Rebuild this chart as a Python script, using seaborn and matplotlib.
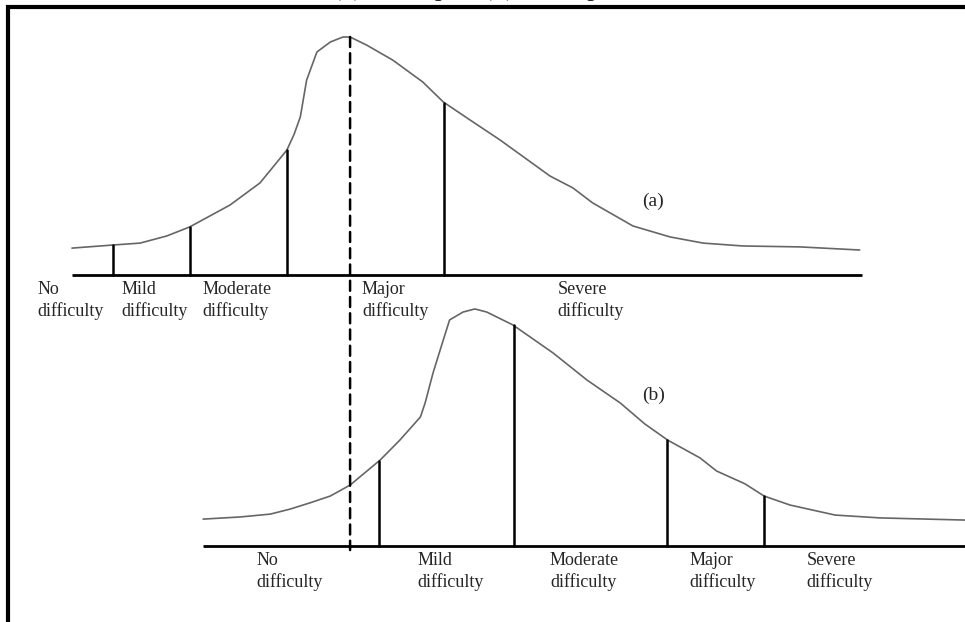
import numpy as np
import pandas as pd
import matplotlib.pyplot as plt
import seaborn as sns
from matplotlib.patches import ConnectionPatch, Rectangle

# panel (a): difficulty score vs relative frequency
score_a = [0, 5.19, 8.61, 12.0, 14.9, 20.0, 23.8, 27.2, 28.1, 28.9, 29.7, 31.0, 32.7, 34.3, 35.2,
           37.3, 40.6, 44.4, 47.0, 50.4, 54.2, 60.5, 63.4, 65.9, 71.0, 75.7, 79.9, 84.9, 92.2, 99.7]
freq_a = [0.113, 0.126, 0.134, 0.164, 0.202, 0.294, 0.387, 0.525, 0.590, 0.664, 0.819, 0.937, 0.979, 1.0, 1.0,
          0.966, 0.903, 0.811, 0.727, 0.651, 0.567, 0.416, 0.366, 0.303, 0.206, 0.160, 0.134, 0.122, 0.118, 0.105]
cuts_a = [5.2, 14.9, 27.2, 47.1]
range_a = [0, 100]

# panel (b)
score_b = [16.6, 21.3, 25.1, 27.6, 30.1, 32.7, 35.2, 39.0, 41.5, 44.1, 44.7, 45.7, 47.0, 47.8, 49.5,
           51.0, 52.5, 55.8, 60.9, 65.2, 69.4, 72.5, 75.4, 79.5, 81.6, 85.2, 87.6, 90.9, 96.6, 102.3, 113.0]
freq_b = [0.113, 0.122, 0.134, 0.155, 0.181, 0.210, 0.256, 0.361, 0.445, 0.542, 0.601, 0.727, 0.866, 0.950, 0.983,
          0.996, 0.983, 0.929, 0.811, 0.697, 0.601, 0.513, 0.445, 0.370, 0.315, 0.261, 0.210, 0.172, 0.130, 0.118, 0.109]
cuts_b = [38.9, 55.9, 75.3, 87.6]
range_b = [16.6, 113.0]

categories = ["No\ndifficulty", "Mild\ndifficulty", "Moderate\ndifficulty", "Major\ndifficulty", "Severe\ndifficulty"]
peak_a = 35.2

# layout: where the category labels sit (score units)
label_x_a = [-4.4, 6.3, 16.5, 36.7, 61.5]
label_x_b = [23.4, 43.7, 60.5, 78.2, 93.0]

sns.set_style("white")
plt.rcParams['font.family'] = ['Liberation Serif', 'DejaVu Serif']

fig = plt.figure(figsize=(9.65, 6.22), dpi=100)
xlim = (-72 / 7.9, (965 - 72) / 7.9)
ax_a = fig.add_axes([0, 1 - 300 / 622, 1, 300 / 622])
ax_b = fig.add_axes([0, 0, 1, 322 / 622])
ax_a.set_xlim(xlim)
ax_b.set_xlim(xlim)
ax_a.set_ylim(-25 / 238, 275 / 238)
ax_b.set_ylim(-76 / 238, 246 / 238)

def draw_panel(ax, score, freq, cuts, xr, labels_x, tag, tag_y):
    df = pd.DataFrame({"score": score, "freq": freq})
    sns.lineplot(data=df, x="score", y="freq", ax=ax, color="#666666", linewidth=1.2, sort=False)
    ax.plot(xr, [0, 0], color="black", linewidth=2, solid_capstyle="butt", clip_on=False)
    for c in cuts:
        ax.plot([c, c], [0, np.interp(c, score, freq)], color="black", linewidth=1.8)
    for lx, lab in zip(labels_x, categories):
        ax.text(lx, -0.025, lab, ha="left", va="top", fontsize=13, linespacing=1.3)
    ax.text(72.2, tag_y, tag, ha="left", va="center", fontsize=14)
    ax.axis("off")

draw_panel(ax_a, score_a, freq_a, cuts_a, range_a, label_x_a, "(a)", 0.31)
draw_panel(ax_b, score_b, freq_b, cuts_b, range_b, label_x_b, "(b)", 0.634)

# dashed line from the peak of (a) down to the baseline of (b)
con = ConnectionPatch(xyA=(peak_a, np.interp(peak_a, score_a, freq_a)), coordsA=ax_a.transData,
                      xyB=(peak_a, -0.017), coordsB=ax_b.transData,
                      color="black", linewidth=1.8, linestyle=(0, (4, 2.5)))
fig.add_artist(con)

# frame (left and top edges visible)
fig.add_artist(Rectangle((8 / 965, -0.1), 1.2, 1.1 - 7 / 622, transform=fig.transFigure,
                         fill=False, edgecolor="black", linewidth=3, clip_on=False))

# title, cut off at the top of the image (only the glyph bottoms show)
fig.text(332 / 965, 1 + 5 / 622, "(a) Example, (b) Example", ha="left", va="baseline", fontsize=20)

fig.savefig("out.png", dpi=100)
